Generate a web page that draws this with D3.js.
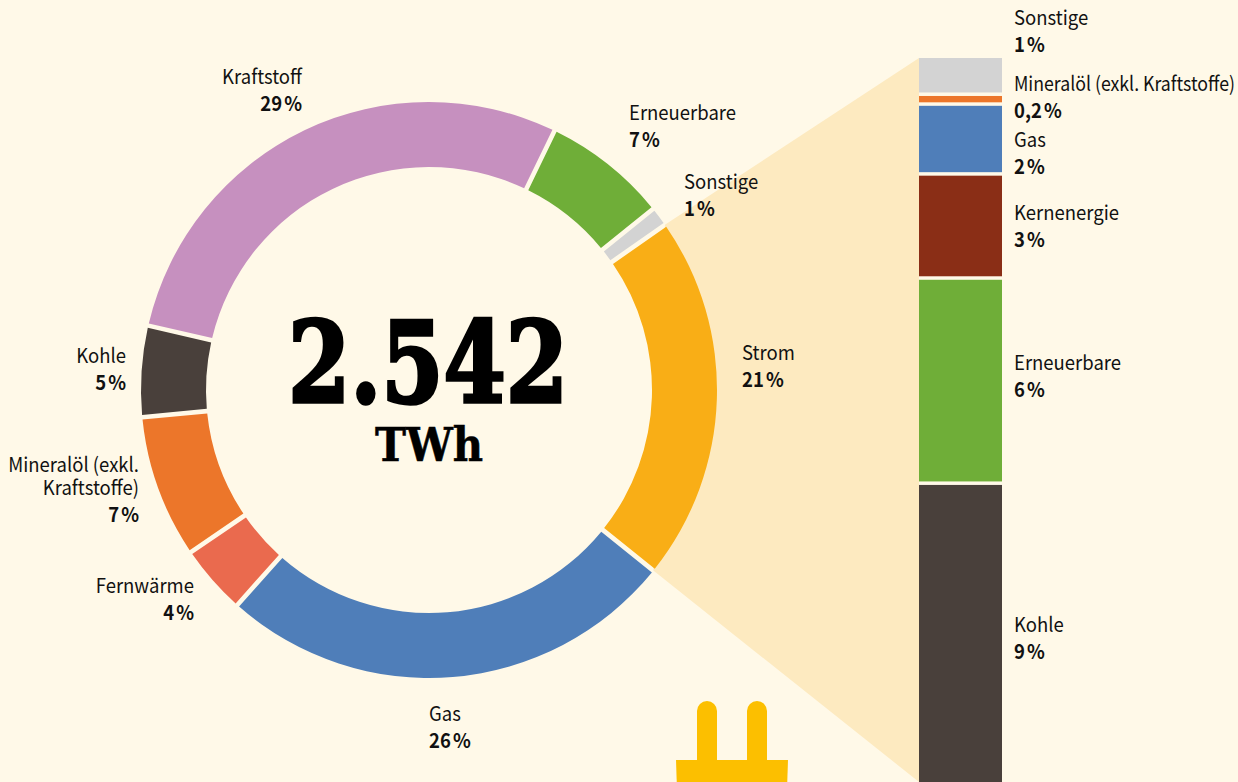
<!DOCTYPE html>
<html lang="de">
<head>
<meta charset="utf-8">
<script src="https://cdn.jsdelivr.net/npm/d3@7"></script>
<style>
	html, body { margin: 0; padding: 0; background: #fff9e8; overflow: hidden; }
	text { font-family: "Noto Sans CJK SC", "Noto Sans", sans-serif; font-size: 20px; fill: #111; }
	.pct { font-weight: 700; }
	.big { font-family: "DejaVu Serif", serif; font-weight: 700; fill: #000; stroke: #000; }
</style>
</head>
<body>
<svg id="chart" width="1238" height="782"></svg>
<script>
// donut, clockwise starting at Strom
const ringNames = ["Strom", "Gas", "Fernwärme", "Mineralöl", "Kohle", "Kraftstoff", "Erneuerbare", "Sonstige"];
const ringShares = [20.51, 25.8, 3.9, 8.0, 5.1, 28.59, 7.0, 1.1];
const ringColors = ["#f9ae16", "#4f7eb9", "#ea6a4e", "#ec762a", "#49403b", "#c690bf", "#6fae38", "#d3d3d3"];
const ringLabels = [
	["Strom"], ["Gas"], ["Fernwärme"], ["Mineralöl (exkl.", "Kraftstoffe)"],
	["Kohle"], ["Kraftstoff"], ["Erneuerbare"], ["Sonstige"],
];
const ringPercents = ["21\u202f%", "26\u202f%", "4\u202f%", "7\u202f%", "5\u202f%", "29\u202f%", "7\u202f%", "1\u202f%"];

// stacked bar, top to bottom
const barNames = ["Sonstige", "Mineralöl (exkl. Kraftstoffe)", "Gas", "Kernenergie", "Erneuerbare", "Kohle"];
const barShares = [1.12, 0.29, 2.06, 3.07, 6.05, 8.76];
const barColors = ["#d3d3d3", "#ec762a", "#4f7eb9", "#8a2e16", "#6fae38", "#49403b"];
const barPercents = ["1\u202f%", "0,2\u202f%", "2\u202f%", "3\u202f%", "6\u202f%", "9\u202f%"];

// label anchors [x, y of first line, text-anchor]
const ringLabelPos = [
	[742, 360, "start"], [429, 721, "start"], [194, 593, "end"], [139, 472, "end"],
	[126, 363, "end"], [302, 84, "end"], [629, 120, "start"], [684, 189, "start"],
];
const barLabelY = [25, 91, 147, 220, 370, 632];

const svg = d3.select("#chart");
const cx = 429, cy = 390, rOuter = 288, rInner = 223;
const startDeg = 55;

const pie = d3.pie().sort(null)
	.startAngle((startDeg * Math.PI) / 180)
	.endAngle((startDeg * Math.PI) / 180 + 2 * Math.PI);
const arcs = pie(ringShares);
const arc = d3.arc().innerRadius(rInner).outerRadius(rOuter).padAngle(0.016).padRadius(rOuter);

const barX = 919, barW = 83;
let cum = 0;
const stack = barShares.map((v) => {
	const d = { y0: cum, y1: cum + v };
	cum += v;
	return d;
});
const y = d3.scaleLinear().domain([0, cum]).range([58, 782]);

// fan from Strom slice to the bar
const polar = (a) => [cx + rOuter * Math.sin(a), cy - rOuter * Math.cos(a)];
svg.append("path")
	.attr("d", d3.line()([polar(arcs[0].startAngle), [barX, y(0)], [barX, y(cum)], polar(arcs[0].endAngle)]))
	.attr("fill", "#fdeac0");

svg.append("g")
	.attr("transform", `translate(${cx},${cy})`)
	.selectAll("path")
	.data(arcs)
	.join("path")
	.attr("d", arc)
	.attr("fill", (d, i) => ringColors[i]);

svg.append("g")
	.selectAll("rect")
	.data(stack)
	.join("rect")
	.attr("x", barX)
	.attr("width", barW)
	.attr("y", (d) => y(d.y0))
	.attr("height", (d, i) => y(d.y1) - y(d.y0) - (i < stack.length - 1 ? 3.5 : 0))
	.attr("fill", (d, i) => barColors[i]);

// the reference face is narrower than the installed one
const squeeze = 0.925;
const maxLabelWidth = 221;
function narrow(t) {
	const w = Math.min(t.node().getComputedTextLength() * squeeze, maxLabelWidth);
	t.attr("textLength", w).attr("lengthAdjust", "spacingAndGlyphs");
}
function label(x, yTop, anchor, lines, pct) {
	const g = svg.append("g").attr("text-anchor", anchor);
	lines.forEach((l, i) => {
		g.append("text").attr("x", x).attr("y", yTop + i * 23).text(l).call(narrow);
	});
	g.append("text")
		.attr("class", "pct")
		.attr("x", x)
		.attr("y", yTop + (lines.length - 1) * 23 + 27)
		.text(pct)
		.call(narrow);
}
ringNames.forEach((n, i) => {
	const [x, yy, a] = ringLabelPos[i];
	label(x, yy, a, ringLabels[i], ringPercents[i]);
});
barNames.forEach((n, i) => label(1014, barLabelY[i], "start", [n], barPercents[i]));

svg.append("text").attr("class", "big")
	.attr("x", 428).attr("y", 402)
	.attr("text-anchor", "middle")
	.style("font-size", "112px")
	.style("stroke-width", 3.5)
	.attr("textLength", 280).attr("lengthAdjust", "spacingAndGlyphs")
	.text("2.542");
svg.append("text").attr("class", "big")
	.attr("x", 429).attr("y", 461)
	.attr("text-anchor", "middle")
	.style("font-size", "46px")
	.style("stroke-width", 0.6)
	.attr("textLength", 108).attr("lengthAdjust", "spacingAndGlyphs")
	.text("TWh");

// plug icon, cut off by the page edge
const plug = svg.append("g").attr("fill", "#fcbf00");
plug.append("path").attr("d", "M697 790V711a10 10 0 0 1 20 0V790Z");
plug.append("path").attr("d", "M747 790V711a10 10 0 0 1 20 0V790Z");
plug.append("path").attr("d", "M676 760H788L787 790H677Z");
</script>
</body>
</html>
